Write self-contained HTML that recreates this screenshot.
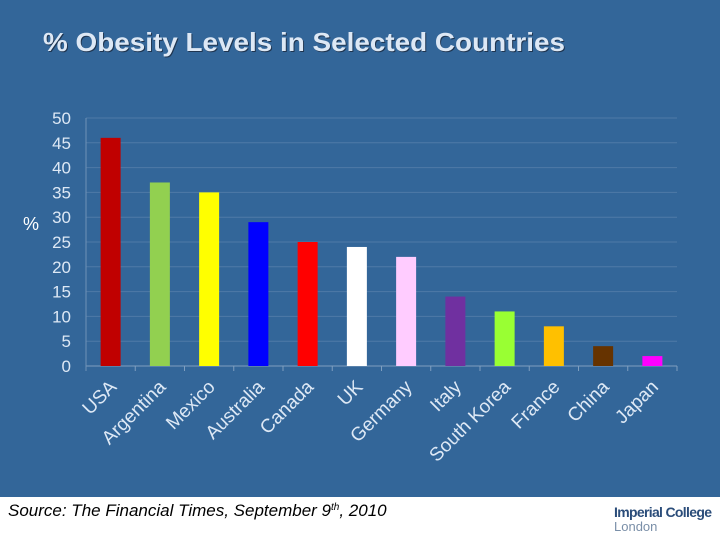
<!DOCTYPE html>
<html><head><meta charset="utf-8"><style>
body{margin:0;width:720px;height:540px;overflow:hidden;background:#336699;font-family:"Liberation Sans",sans-serif;}
</style></head><body>
<svg width="720" height="540" style="position:absolute;left:0;top:0">
<rect x="0" y="0" width="720" height="497" fill="#336699"/>
<rect x="0" y="497" width="720" height="43" fill="#ffffff"/>
<text x="44" y="52" font-size="26" font-weight="bold" fill="#1f3550" textLength="522" lengthAdjust="spacingAndGlyphs">% Obesity Levels in Selected Countries</text>
<text x="43" y="51" font-size="26" font-weight="bold" fill="#dde8f5" textLength="522" lengthAdjust="spacingAndGlyphs">% Obesity Levels in Selected Countries</text>
<text x="23" y="230" font-size="18" fill="#ffffff">%</text>
<g id="grid"></g><g id="bars"></g><g id="labels"></g>
<text x="8" y="516" font-size="17" font-style="italic" fill="#000">Source: The Financial Times, September 9<tspan font-size="10" dy="-6">th</tspan><tspan dy="6">, 2010</tspan></text>
<text x="614" y="517" font-size="14" font-weight="bold" fill="#2b4d7a" textLength="98">Imperial College</text>
<text x="614" y="531" font-size="13" fill="#7a8fa8">London</text>
</svg>
<script>
const categories=["USA","Argentina","Mexico","Australia","Canada","UK","Germany","Italy","South Korea","France","China","Japan"];
const values=[46,37,35,29,25,24,22,14,11,8,4,2];
const colors=["#c00000","#92d050","#ffff00","#0000ff","#ff0000","#ffffff","#ffccff","#7030a0","#99ff33","#ffc000","#663300","#ff00ff"];
const yTicks=[0,5,10,15,20,25,30,35,40,45,50];
const NS="http://www.w3.org/2000/svg";
const x0=86,x1=677,yTop=118,yBot=366,yMax=50;
const y=v=>yBot-(v/yMax)*(yBot-yTop);
const step=(x1-x0)/categories.length;
const xc=i=>x0+step*(i+0.5);
function mk(t,a,p){const e=document.createElementNS(NS,t);for(const k in a)e.setAttribute(k,a[k]);p.appendChild(e);return e;}
const g=document.getElementById('grid'),b=document.getElementById('bars'),l=document.getElementById('labels');
yTicks.forEach(t=>{
 const ln=mk('line',{x1:x0,x2:x1,y1:y(t),y2:y(t),stroke:t===0?'#7f9fc0':'#4f7aa7','stroke-width':1},g);
 
 
 const tx=mk('text',{x:71,y:y(t)+6,'font-size':17,fill:'#dde8f5','text-anchor':'end'},g);
 tx.textContent=t;
 
 
});
const ax=mk('line',{x1:x0,x2:x0,y1:yTop,y2:yBot+5,stroke:'#6f92b8'},g);


categories.forEach((c,i)=>{
 const r=mk('rect',{x:xc(i)-10,y:y(values[i]),width:20,height:yBot-y(values[i]),fill:colors[i]},b);
 
 
 const tk=mk('line',{x1:x0+step*(i+1),x2:x0+step*(i+1),y1:yBot,y2:yBot+5,stroke:'#7f9fc0'},g);
 
 
 const tx=mk('text',{x:xc(i)+7,y:yBot+22,'font-size':19,fill:'#dde8f5','text-anchor':'end',transform:`rotate(-45 ${xc(i)+7} ${yBot+22})`},l);
 tx.textContent=c;
 
 
});
</script>
</body></html>
